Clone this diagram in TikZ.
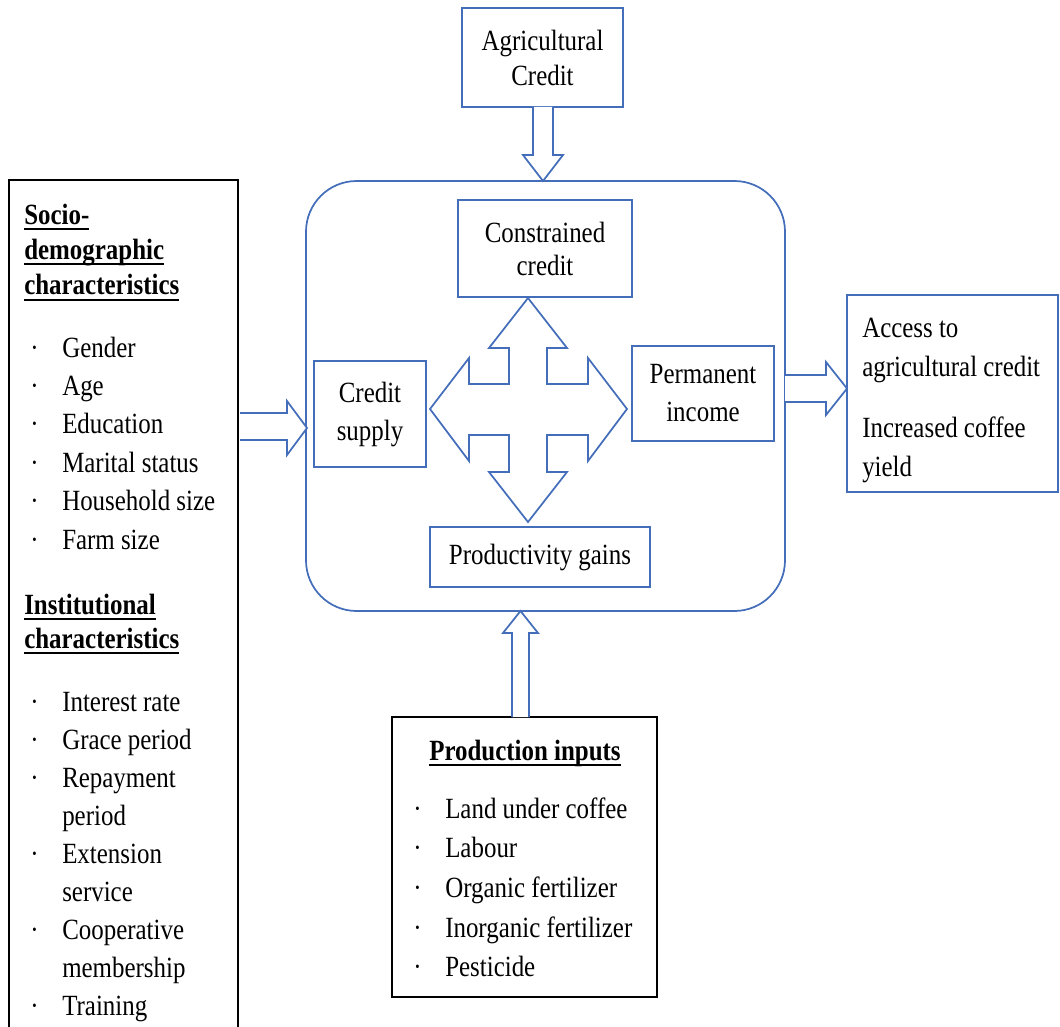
\documentclass[tikz,border=0pt]{standalone}
\usepackage{fontspec}
\setmainfont{Liberation Serif}[FakeStretch=0.85]
\usepackage{tikz}

\definecolor{frameblue}{RGB}{68,110,186}
\newcommand{\ulhead}[1]{\leavevmode\setbox0\hbox{\bfseries #1}\rlap{\rule[-4.5pt]{\wd0}{1.8pt}}\box0}
\newcommand{\itm}{\leavevmode\makebox[28.5pt][l]{\hspace{4.5pt}·}}
\newcommand{\cont}{\leavevmode\hspace*{28.5pt}}
\newcommand{\diafont}[1]{\fontsize{22}{#1}\selectfont}
\newcommand{\tightsp}{\spaceskip=0.21em\relax}

\tikzset{
  bluebox/.style={draw=frameblue, line width=1.3pt, align=center, inner sep=0pt},
  blackbox/.style={draw=black, line width=1.3pt, inner sep=0pt},
  blockarrow/.style={draw=frameblue, line width=1.3pt, fill=white},
  txt/.style={anchor=base west, align=left, text width=240pt, inner sep=0pt},
}

\begin{document}
\begin{tikzpicture}[x=0.75pt, y=-0.75pt]
    \clip (0,0) rectangle (1060,1027);

    % outer boxes
    \node[blackbox, minimum width=171.75pt, minimum height=645pt] (socio) at (123.5,610) {};
    \node[blackbox, minimum width=198.75pt, minimum height=210pt] (inputs) at (524.5,857) {};
    \node[bluebox, minimum width=158.25pt, minimum height=147.75pt] (outcome) at (952.5,393.5) {};
    \node[bluebox, rounded corners=38pt, minimum width=359.25pt, minimum height=322.5pt] (core) at (545.5,396) {};

    % inner boxes
    \node[bluebox, minimum width=120.75pt, minimum height=74.25pt, font=\diafont{26.25}] (agri) at (542.5,57.5) {Agricultural\\Credit};
    \node[bluebox, minimum width=130.5pt, minimum height=72.75pt, font=\diafont{24.75}] (constr) at (545,248.5) {Constrained\\credit};
    \node[bluebox, minimum width=84pt, minimum height=79.5pt, font=\diafont{28.5}] (supply) at (370,414) {Credit\\supply};
    \node[bluebox, minimum width=106.5pt, minimum height=71.25pt, font=\diafont{28.5}] (income) at (703,393.5) {Permanent\\income};
    \node[bluebox, minimum width=165pt, minimum height=45pt, font=\diafont{28.5}] (gains) at (540,557) {\tightsp Productivity gains};

    % block arrows
    \draw[blockarrow] (533,107) -- (533,155) -- (523,155) -- (543,181) -- (563,155) -- (553,155) -- (553,107);
    \draw[blockarrow] (240,413) -- (287,413) -- (287,401) -- (307,428) -- (287,455) -- (287,440) -- (240,440);
    \draw[blockarrow] (785,375) -- (826,375) -- (826,362) -- (847,388.5) -- (826,415) -- (826,402) -- (785,402);
    \draw[blockarrow] (512,717) -- (512,633) -- (503,633) -- (520.5,611) -- (538,633) -- (529,633) -- (529,717);

    % four way arrow
    \draw[blockarrow] (528,298) -- (567,348) -- (547,348) -- (547,384) -- (588,384) -- (588,358)
        -- (627,409) -- (588,461) -- (588,435) -- (547,435) -- (547,472) -- (567,472)
        -- (528,522) -- (489,472) -- (509,472) -- (509,435) -- (469,435) -- (469,461)
        -- (430,409) -- (469,358) -- (469,384) -- (509,384) -- (509,348) -- (489,348) -- cycle;

    % left box text
    \node[txt, font=\diafont{26.6}] (sochead) at (24,224)
        {\ulhead{Socio-}\\\ulhead{demographic}\\\ulhead{characteristics}};
    \node[txt, font=\diafont{28.8}] (soclist) at (24,357)
        {\tightsp\itm Gender\\\itm Age\\\itm Education\\\itm Marital status\\\itm Household size\\\itm Farm size};
    \node[txt, font=\diafont{25.5}] (insthead) at (24,614)
        {\ulhead{Institutional}\\\ulhead{characteristics}};
    \node[txt, font=\diafont{28.5}] (instlist) at (24,711)
        {\tightsp\itm Interest rate\\\itm Grace period\\\itm Repayment\\\cont period\\\itm Extension\\\cont service\\\itm Cooperative\\\cont membership\\\itm Training};

    % production inputs text
    \node[anchor=base, inner sep=0pt, font=\diafont{28.5}] (inphead) at (525,760) {\ulhead{Production inputs}};
    \node[txt, font=\diafont{29.8}] (inplist) at (407,818)
        {\tightsp\itm Land under coffee\\\itm Labour\\\itm Organic fertilizer\\\itm Inorganic fertilizer\\\itm Pesticide};

    % outcome text
    \node[txt, font=\diafont{29.25}] (outtext) at (862,337)
        {\tightsp Access to\\agricultural credit\\[17pt]Increased coffee\\yield};
\end{tikzpicture}
\end{document}
